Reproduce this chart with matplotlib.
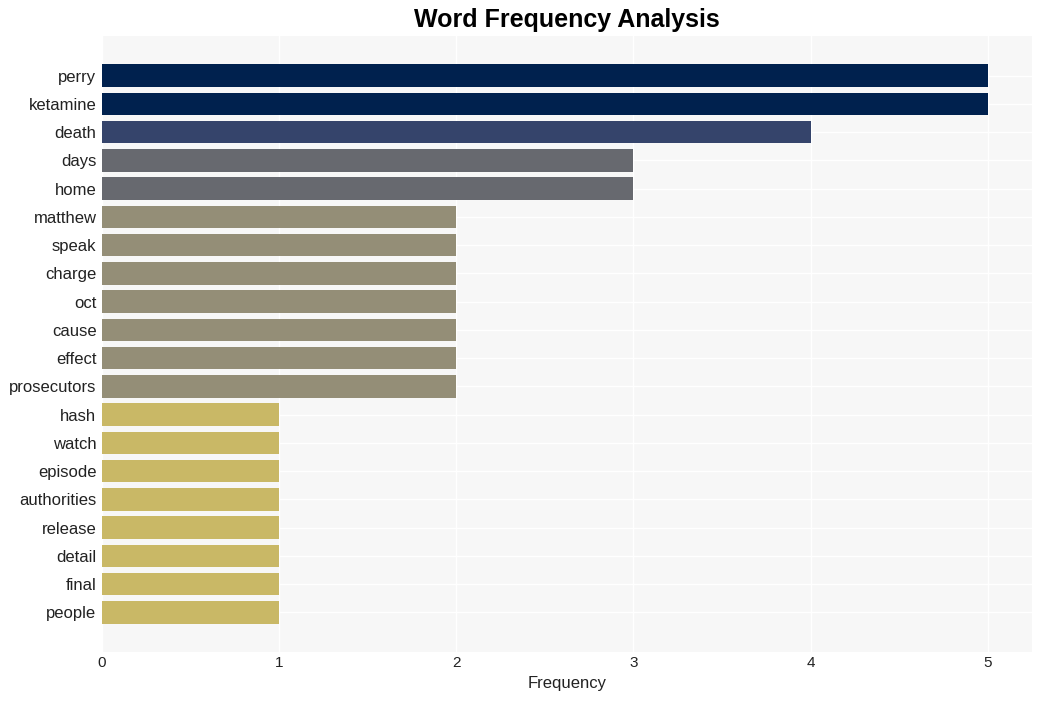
import matplotlib
matplotlib.use('Agg')
import matplotlib.pyplot as plt

plt.rcParams['font.family'] = ['Liberation Sans', 'DejaVu Sans']

words = ['perry', 'ketamine', 'death', 'days', 'home', 'matthew', 'speak', 'charge',
         'oct', 'cause', 'effect', 'prosecutors', 'hash', 'watch', 'episode',
         'authorities', 'release', 'detail', 'final', 'people']
counts = [5, 5, 4, 3, 3, 2, 2, 2, 2, 2, 2, 2, 1, 1, 1, 1, 1, 1, 1, 1]

# colour per frequency level
level_colors = {5: '#00214e', 4: '#35446b', 3: '#67696f', 2: '#948e77', 1: '#c9b866'}
colors = [level_colors[c] for c in counts]

fig = plt.figure(figsize=(10.41, 7.01), dpi=100)
ax = fig.add_axes([102/1041, 1 - 652/701, (1032-102)/1041, (652-36)/701])
ax.set_facecolor('#f7f7f7')

ypos = list(range(len(words)))
ax.barh(ypos, counts, height=0.8, color=colors, zorder=3)
ax.set_yticks(ypos)
ax.set_yticklabels(words)
ax.set_ylim(len(words) - 1 + 1.4, -1.4)
ax.set_xlim(0, 5.25)
ax.set_xticks(range(0, 6))

ax.grid(True, color='white', linewidth=1, zorder=0)
ax.set_axisbelow(True)
for s in ax.spines.values():
    s.set_visible(False)
ax.tick_params(axis='both', length=0, colors='#222222')
ax.tick_params(axis='x', labelsize=11, pad=3)
ax.tick_params(axis='y', labelsize=12, pad=4)

ax.set_xlabel('Frequency', fontsize=12, color='#222222', labelpad=4)
fig.text(0.545, 1 - 20/701, 'Word Frequency Analysis', ha='center', va='center',
         fontsize=18, fontweight='bold')

fig.savefig('out.png', dpi=100)
